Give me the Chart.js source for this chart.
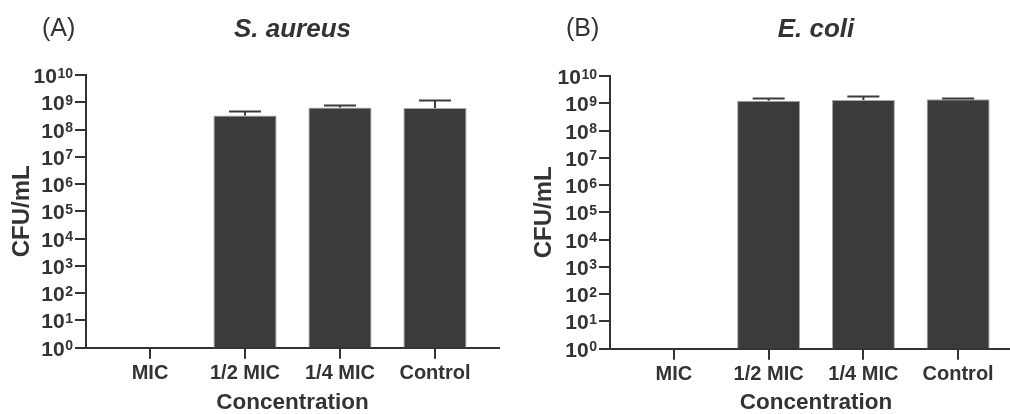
<!DOCTYPE html>
<html>
<head>
<meta charset="utf-8">
<script src="https://cdn.jsdelivr.net/npm/chart.js@4.4.0/dist/chart.umd.min.js"></script>
<style>
  html, body { margin: 0; padding: 0; background: #fff; overflow: hidden; }
  body { width: 1010px; height: 414px; position: relative; }
  .panel { position: absolute; top: 0; height: 414px; }
  #panel-a { left: 0; width: 505px; }
  #panel-b { left: 520px; width: 502px; }
</style>
</head>
<body>
<div class="panel" id="panel-a"><canvas id="chart-a"></canvas></div>
<div class="panel" id="panel-b"><canvas id="chart-b"></canvas></div>
<script>
// data (CFU/mL, mean + upper SD)
const categories = ['MIC', '1/2 MIC', '1/4 MIC', 'Control'];
const yExponents = [0, 1, 2, 3, 4, 5, 6, 7, 8, 9, 10];

const aureusMean = [null, 3.3e8, 6.4e8, 6.2e8];
const aureusSD = [null, 1.4e8, 1.4e8, 5.6e8];

const coliMean = [null, 1.23e9, 1.33e9, 1.41e9];
const coliSD = [null, 0.35e9, 0.45e9, 0.17e9];

const FONT = '"Liberation Sans", Arial, Helvetica, sans-serif';
const INK = '#333333';
const BAR = '#3b3b3b';

// y tick labels as 10 with superscript, panel letter, title, error bars
const panelDecor = {
    id: 'panelDecor',
    afterDatasetsDraw(chart, args, opts) {
        const { ctx } = chart;
        const y = chart.scales.y;
        const meta = chart.getDatasetMeta(0);
        ctx.save();
        ctx.strokeStyle = BAR;
        ctx.lineWidth = 2;
        meta.data.forEach((bar, i) => {
            const m = opts.mean[i];
            const sd = opts.sd[i];
            if (m == null || sd == null) return;
            const top = Math.round(y.getPixelForValue(m + sd)) + 0.5;
            ctx.beginPath();
            ctx.moveTo(bar.x, bar.y);
            ctx.lineTo(bar.x, top);
            ctx.moveTo(bar.x - 16, top);
            ctx.lineTo(bar.x + 16, top);
            ctx.stroke();
        });
        ctx.restore();
    },
    afterDraw(chart, args, opts) {
        const { ctx, chartArea } = chart;
        const y = chart.scales.y;
        ctx.save();
        ctx.fillStyle = INK;

        const right = chartArea.left - 13;
        yExponents.forEach(e => {
            const py = y.getPixelForValue(Math.pow(10, e));
            const sup = String(e);
            ctx.font = `bold 14px ${FONT}`;
            const supW = ctx.measureText(sup).width;
            ctx.textAlign = 'left';
            ctx.textBaseline = 'alphabetic';
            ctx.fillText(sup, right - supW, py + 2.5);
            ctx.font = `bold 21px ${FONT}`;
            ctx.textAlign = 'right';
            ctx.fillText('10', right - supW - 0.5, py + 8);
        });

        // panel letter
        ctx.font = `25px ${FONT}`;
        ctx.textAlign = 'left';
        ctx.textBaseline = 'middle';
        ctx.fillText(opts.letter, chartArea.left - 44, 29);

        // title
        ctx.font = `italic bold 26px ${FONT}`;
        ctx.textAlign = 'center';
        ctx.fillText(opts.title, (chartArea.left + chartArea.right) / 2, 30);
        ctx.restore();
    }
};

function makePanel(canvasId, cfg) {
    const ctx = document.getElementById(canvasId).getContext('2d');
    const axisLine = { display: true, color: INK, width: 2 };
    const tickMarks = { drawOnChartArea: false, drawTicks: true, tickLength: 11, color: INK, lineWidth: 2, offset: false };

    return new Chart(ctx, {
        type: 'bar',
        data: {
            datasets: [{
                data: cfg.mean.map((v, i) => ({ x: i, y: v })),
                backgroundColor: BAR,
                borderColor: '#a8a8a8',
                borderWidth: 1,
                categoryPercentage: 1,
                barPercentage: 0.665
            }]
        },
        options: {
            responsive: true,
            maintainAspectRatio: false,
            animation: false,
            layout: { padding: { top: cfg.top, right: cfg.padRight, bottom: 0, left: 0 } },
            plugins: {
                legend: { display: false },
                tooltip: { enabled: false },
                panelDecor: { letter: cfg.letter, title: cfg.title, mean: cfg.mean, sd: cfg.sd }
            },
            scales: {
                x: {
                    type: 'linear',
                    offset: false,
                    min: -0.674,
                    max: 3.674,
                    afterBuildTicks: s => { s.ticks = categories.map((c, i) => ({ value: i })); },
                    afterFit: s => { s.height = cfg.xHeight; },
                    ticks: {
                        callback: v => categories[v],
                        color: INK,
                        font: { family: FONT, size: 20, weight: 'bold' },
                        padding: 3,
                        autoSkip: false,
                        maxRotation: 0
                    },
                    grid: tickMarks,
                    border: axisLine,
                    title: {
                        display: true,
                        text: 'Concentration',
                        color: INK,
                        font: { family: FONT, size: 22.5, weight: 'bold', lineHeight: 1 },
                        padding: 0
                    }
                },
                y: {
                    type: 'logarithmic',
                    min: 1,
                    max: 1e10,
                    afterBuildTicks: s => { s.ticks = yExponents.map(e => ({ value: Math.pow(10, e) })); },
                    afterFit: s => { s.width = cfg.left; },
                    ticks: { display: false },
                    grid: tickMarks,
                    border: axisLine,
                    title: {
                        display: true,
                        text: 'CFU/mL',
                        color: INK,
                        font: { family: FONT, size: 24, weight: 'bold', lineHeight: 1.2 },
                        padding: { top: cfg.yTitlePad, bottom: 0 }
                    }
                }
            }
        },
        plugins: [panelDecor]
    });
}

makePanel('chart-a', {
    letter: '(A)', title: 'S. aureus', mean: aureusMean, sd: aureusSD,
    top: 75, xHeight: 66.3, left: 86, padRight: 6, yTitlePad: 8
});
makePanel('chart-b', {
    letter: '(B)', title: 'E. coli', mean: coliMean, sd: coliSD,
    top: 76, xHeight: 65.3, left: 90, padRight: 0, yTitlePad: 10
});
</script>
</body>
</html>
